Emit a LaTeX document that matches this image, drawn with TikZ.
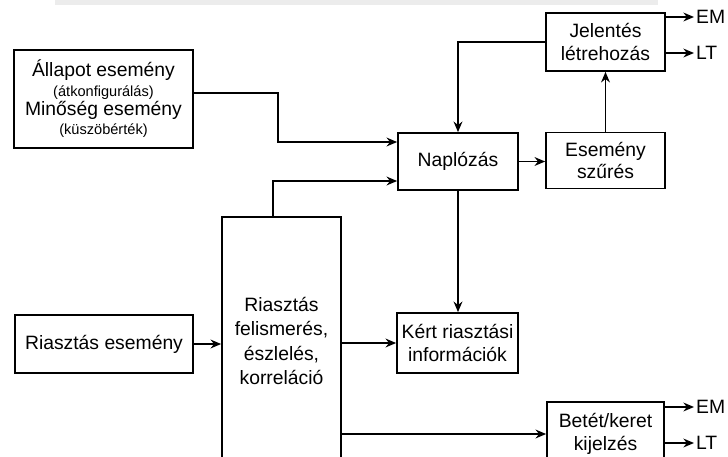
\documentclass[tikz,border=0pt]{standalone}
\usepackage{fontspec}
\setmainfont{Liberation Sans}
\usetikzlibrary{arrows.meta,calc}
\newcommand{\kicsi}{\fontsize{8.3}{10}\selectfont}
\tikzset{
  blokk/.style={draw,line width=1pt,align=center,inner sep=2pt,font=\fontsize{11}{13}\selectfont},
  nyil/.style={-{Stealth[length=6pt,width=5pt]},line width=1pt},
  kimenet/.style={anchor=west,inner xsep=1pt,inner ysep=0pt,font=\fontsize{11}{13}\selectfont}
}

\begin{document}
\begin{tikzpicture}[x=0.02cm,y=-0.02cm]
\useasboundingbox (0,0) rectangle (728,457);
\clip (0,0) rectangle (728,457);
\fill[gray!15] (55,0) rectangle (658,5);

% bemenetek
\node[blokk,minimum width=3.58cm,minimum height=1.96cm,font=\fontsize{11}{11}\selectfont] (allapot) at (103.5,99)
  {Állapot esemény\\{\kicsi (átkonfigurálás)}\\Minőség esemény\\{\kicsi (küszöbérték)}};
\node[blokk,minimum width=3.56cm,minimum height=1.16cm] (riaszt) at (104,344) {Riasztás esemény};

% feldolgozás
\node[blokk,minimum width=2.38cm,minimum height=4.96cm,font=\fontsize{11}{14}\selectfont] (felism) at (281.5,341)
  {Riasztás\\felismerés,\\észlelés,\\korreláció};
\node[blokk,minimum width=2.4cm,minimum height=1.14cm] (naplo) at (458,161.5) {Naplózás};
\node[blokk,minimum width=2.38cm,minimum height=1.12cm] (szures) at (605.5,160.5) {Esemény\\szűrés};
\node[blokk,minimum width=2.38cm,minimum height=1.16cm] (jelentes) at (605.5,42) {Jelentés\\létrehozás};
\node[blokk,minimum width=2.42cm,minimum height=1.2cm] (kert) at (457.5,343) {Kért riasztási\\információk};
\node[blokk,minimum width=2.34cm,minimum height=1.28cm] (betet) at (605.5,434) {Betét/keret\\kijelzés};

% kimenetek
\node[kimenet] (em1) at (694,17) {EM};
\node[kimenet] (lt1) at (694,53) {LT};
\node[kimenet] (em2) at (694,407) {EM};
\node[kimenet] (lt2) at (694,443) {LT};

\draw[nyil] ($(allapot.east)+(0,-6)$) -- ++(84,0) |- ($(naplo.west)+(0,-19.5)$);
\draw[nyil] ($(felism.north)+(-8.5,0)$) |- ($(naplo.west)+(0,19.5)$);
\draw[nyil] (jelentes.west) -| (naplo.north);
\draw[nyil] (naplo.east) -- (naplo.east -| szures.west);
\draw[nyil] (szures) -- (jelentes);
\draw[nyil] (naplo.south) -- (naplo.south |- kert.north);
\draw[nyil] (riaszt.east) -- (riaszt.east -| felism.west);
\draw[nyil] (kert.west -| felism.east) -- (kert.west);
\draw[nyil] (betet.west -| felism.east) -- (betet.west);
\draw[nyil] (em1.west -| jelentes.east) -- (em1.west);
\draw[nyil] (lt1.west -| jelentes.east) -- (lt1.west);
\draw[nyil] (em2.west -| betet.east) -- (em2.west);
\draw[nyil] (lt2.west -| betet.east) -- (lt2.west);
\end{tikzpicture}
\end{document}
